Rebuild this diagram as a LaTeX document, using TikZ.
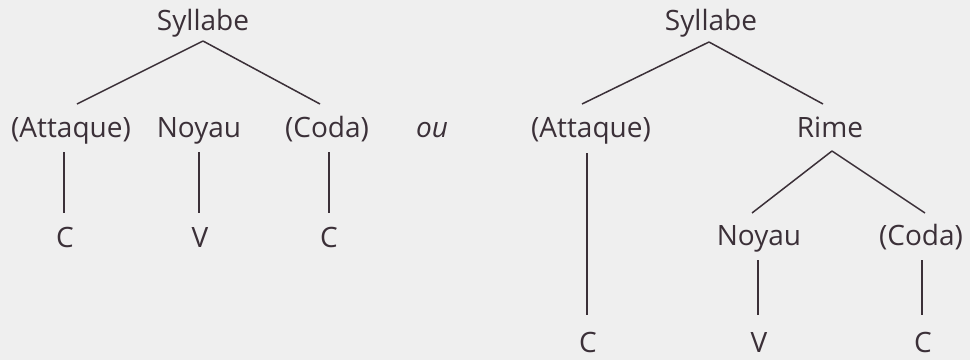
\documentclass[tikz,border=0pt]{standalone}
\usepackage{fontspec}
\setmainfont{Open Sans}
\definecolor{ink}{HTML}{3B3038}
\definecolor{bg}{HTML}{EFEFEF}
\tikzset{
  lab/.style={anchor=base, inner sep=0pt, text=ink, font=\fontsize{28}{32}\selectfont},
  br/.style={draw=ink, line width=1.5pt}
}
\begin{document}
\begin{tikzpicture}[x=1pt,y=-1pt]
\fill[bg] (0,0) rectangle (970,360);
\useasboundingbox (0,0) rectangle (970,360);
% left tree
\node[lab] (s1) at (203,30) {Syllabe};
\node[lab] (a1) at (71,137) {(Attaque)};
\node[lab] (n1) at (199,137) {Noyau};
\node[lab] (k1) at (327,137) {(Coda)};
\node[lab] (c1) at (65,247) {C};
\node[lab] (v1) at (200,247) {V};
\node[lab] (c2) at (329,247) {C};
\node[lab] (ou) at (432,137) {\itshape ou};
\draw[br] ([shift={(0,11)}]s1.base) -- ([shift={(6,-33)}]a1.base);
\draw[br] ([shift={(0,11)}]s1.base) -- ([shift={(-7,-33)}]k1.base);
\draw[br] ([shift={(-7,15)}]a1.base) -- ([shift={(-1,-34)}]c1.base);
\draw[br] ([shift={(0,15)}]n1.base) -- ([shift={(-1,-34)}]v1.base);
\draw[br] ([shift={(2,15)}]k1.base) -- ([shift={(0,-34)}]c2.base);
% right tree
\node[lab] (s2) at (711,30) {Syllabe};
\node[lab] (a2) at (591,137) {(Attaque)};
\node[lab] (r2) at (830,137) {Rime};
\node[lab] (n2) at (759,245) {Noyau};
\node[lab] (k2) at (921,245) {(Coda)};
\node[lab] (c3) at (588,352) {C};
\node[lab] (v2) at (759,352) {V};
\node[lab] (c4) at (923,352) {C};
\draw[br] ([shift={(-2,12)}]s2.base) -- ([shift={(-9,-33)}]a2.base);
\draw[br] ([shift={(-2,12)}]s2.base) -- ([shift={(-7,-33)}]r2.base);
\draw[br] ([shift={(2,14)}]r2.base) -- ([shift={(-7,-32)}]n2.base);
\draw[br] ([shift={(2,14)}]r2.base) -- ([shift={(4,-32)}]k2.base);
\draw[br] ([shift={(-4,16)}]a2.base) -- ([shift={(-1,-37)}]c3.base);
\draw[br] ([shift={(-1,15)}]n2.base) -- ([shift={(-1,-37)}]v2.base);
\draw[br] ([shift={(1,15)}]k2.base) -- ([shift={(-1,-37)}]c4.base);
\end{tikzpicture}
\end{document}
